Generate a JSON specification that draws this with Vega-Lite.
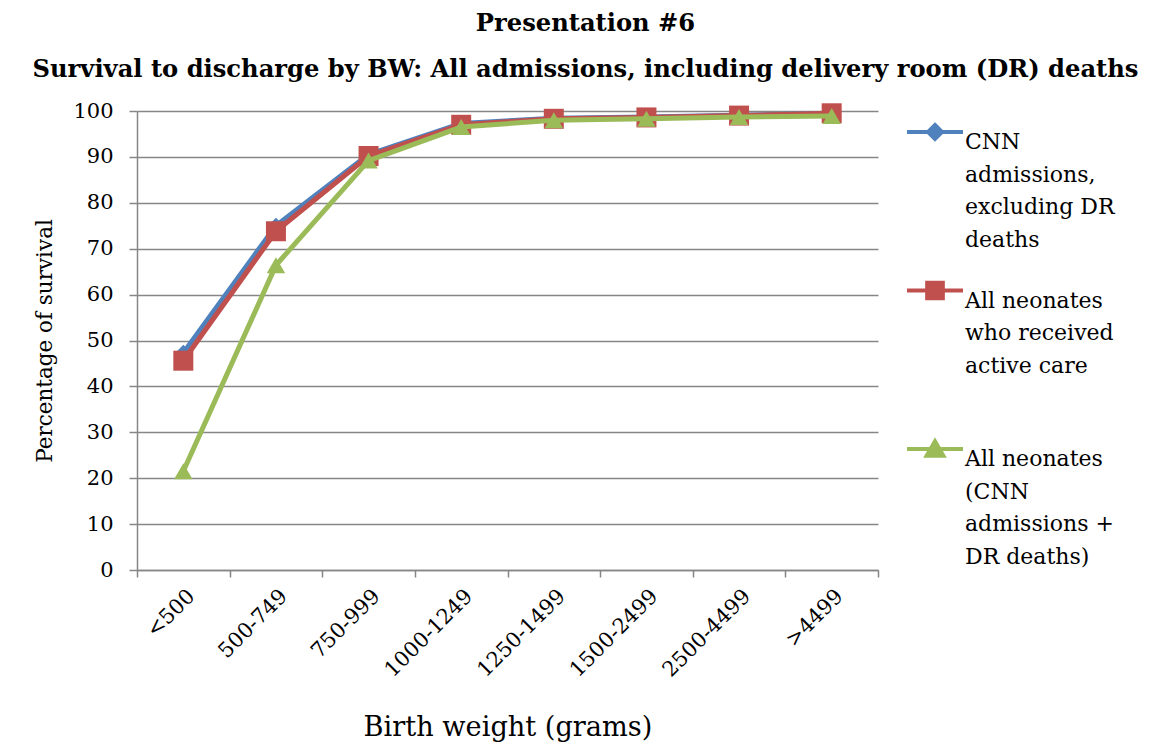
{
  "$schema": "https://vega.github.io/schema/vega-lite/v6.json",
  "width": 741,
  "height": 459,
  "autosize": {"type": "none"},
  "padding": {"left": 137, "top": 111, "right": 274, "bottom": 175},
  "background": "white",
  "title": {
    "text": ["Presentation #6", "Survival to discharge by BW: All admissions, including delivery room (DR) deaths"],
    "font": "DejaVu Serif",
    "fontSize": 24.2,
    "fontWeight": "bold",
    "color": "black",
    "lineHeight": 46,
    "anchor": "middle",
    "frame": "group",
    "dx": 78,
    "offset": 18
  },
  "data": {
    "values": [
      {"bw": "<500", "series": "CNN admissions, excluding DR deaths", "pct": 47.3},
      {"bw": "500-749", "series": "CNN admissions, excluding DR deaths", "pct": 75.0},
      {"bw": "750-999", "series": "CNN admissions, excluding DR deaths", "pct": 90.5},
      {"bw": "1000-1249", "series": "CNN admissions, excluding DR deaths", "pct": 97.3},
      {"bw": "1250-1499", "series": "CNN admissions, excluding DR deaths", "pct": 98.4},
      {"bw": "1500-2499", "series": "CNN admissions, excluding DR deaths", "pct": 98.7},
      {"bw": "2500-4499", "series": "CNN admissions, excluding DR deaths", "pct": 99.1},
      {"bw": ">4499", "series": "CNN admissions, excluding DR deaths", "pct": 99.5},
      {"bw": "<500", "series": "All neonates who received active care", "pct": 45.6},
      {"bw": "500-749", "series": "All neonates who received active care", "pct": 73.8},
      {"bw": "750-999", "series": "All neonates who received active care", "pct": 90.2},
      {"bw": "1000-1249", "series": "All neonates who received active care", "pct": 97.0},
      {"bw": "1250-1499", "series": "All neonates who received active care", "pct": 98.3},
      {"bw": "1500-2499", "series": "All neonates who received active care", "pct": 98.6},
      {"bw": "2500-4499", "series": "All neonates who received active care", "pct": 99.0},
      {"bw": ">4499", "series": "All neonates who received active care", "pct": 99.5},
      {"bw": "<500", "series": "All neonates (CNN admissions + DR deaths)", "pct": 21.5},
      {"bw": "500-749", "series": "All neonates (CNN admissions + DR deaths)", "pct": 66.4},
      {"bw": "750-999", "series": "All neonates (CNN admissions + DR deaths)", "pct": 89.2},
      {"bw": "1000-1249", "series": "All neonates (CNN admissions + DR deaths)", "pct": 96.5},
      {"bw": "1250-1499", "series": "All neonates (CNN admissions + DR deaths)", "pct": 98.0},
      {"bw": "1500-2499", "series": "All neonates (CNN admissions + DR deaths)", "pct": 98.3},
      {"bw": "2500-4499", "series": "All neonates (CNN admissions + DR deaths)", "pct": 98.7},
      {"bw": ">4499", "series": "All neonates (CNN admissions + DR deaths)", "pct": 98.9}
    ]
  },
  "encoding": {
    "x": {
      "field": "bw",
      "type": "ordinal",
      "sort": ["<500", "500-749", "750-999", "1000-1249", "1250-1499", "1500-2499", "2500-4499", ">4499"],
      "bandPosition": 0.5,
      "scale": {"type": "band", "paddingInner": 0, "paddingOuter": 0},
      "axis": {
        "title": "Birth weight (grams)",
        "labelAngle": -45,
        "labelFont": "DejaVu Serif",
        "labelFontSize": 21,
        "labelColor": "black",
        "labelPadding": 8,
        "tickBand": "extent",
        "tickSize": 7,
        "tickColor": "#868686",
        "tickWidth": 1.5,
        "domainColor": "#868686",
        "domainWidth": 1.5,
        "grid": false,
        "titleFont": "DejaVu Serif",
        "titleFontSize": 27.2,
        "titleFontWeight": "normal",
        "titleColor": "black",
        "titlePadding": 34
      }
    },
    "y": {
      "field": "pct",
      "type": "quantitative",
      "scale": {"domain": [0, 100], "nice": false},
      "axis": {
        "title": "Percentage of survival",
        "values": [0, 10, 20, 30, 40, 50, 60, 70, 80, 90, 100],
        "labelFont": "DejaVu Serif",
        "labelFontSize": 21,
        "labelColor": "black",
        "labelPadding": 16,
        "tickSize": 8,
        "tickColor": "#868686",
        "tickWidth": 1.5,
        "domainColor": "#868686",
        "domainWidth": 1.5,
        "grid": true,
        "gridColor": "#868686",
        "gridWidth": 1.5,
        "titleFont": "DejaVu Serif",
        "titleFontSize": 21.5,
        "titleFontWeight": "normal",
        "titleColor": "black",
        "titlePadding": 16
      }
    },
    "color": {
      "field": "series",
      "type": "nominal",
      "scale": {
        "domain": ["CNN admissions, excluding DR deaths", "All neonates who received active care", "All neonates (CNN admissions + DR deaths)"],
        "range": ["#4F81BD", "#C0504D", "#9BBB59"]
      },
      "legend": {
        "orient": "none",
        "legendX": 768,
        "legendY": -9,
        "title": null,
        "direction": "vertical",
        "labelFont": "DejaVu Serif",
        "labelFontSize": 22,
        "labelColor": "black",
        "labelLimit": 300,
        "labelBaseline": "top",
        "labelOffset": 0,
        "rowPadding": 9.5,
        "symbolSize": 3136,
        "symbolStrokeWidth": 4,
        "labelExpr": "datum.label == 'CNN admissions, excluding DR deaths' ? ['CNN', 'admissions,', 'excluding DR', 'deaths'] : datum.label == 'All neonates who received active care' ? ['All neonates', 'who received', 'active care', ' '] : ['All neonates', '(CNN', 'admissions +', 'DR deaths)']",
        "encode": {
          "labels": {"update": {"lineHeight": {"value": 32.5}}},
          "symbols": {
            "update": {
              "shape": {"signal": "datum.value == 'CNN admissions, excluding DR deaths' ? 'M-1,0H1M0,-0.25L0.25,0L0,0.25L-0.25,0Z' : datum.value == 'All neonates who received active care' ? 'M-1,0H1M-0.28,-0.28H0.28V0.28H-0.28Z' : 'M-1,0H1M0,-0.28L0.3,0.24H-0.3Z'"},
              "size": {"value": 3136},
              "fill": {"scale": "color", "field": "value"},
              "stroke": {"scale": "color", "field": "value"},
              "strokeWidth": {"value": 4},
              "opacity": {"value": 1}
            }
          }
        }
      }
    }
  },
  "layer": [
    {
      "transform": [{"filter": "datum.series == 'CNN admissions, excluding DR deaths'"}],
      "layer": [
        {"mark": {"type": "line", "strokeWidth": 5}},
        {"mark": {"type": "point", "filled": true, "opacity": 1, "shape": "diamond", "size": 260}}
      ]
    },
    {
      "transform": [{"filter": "datum.series == 'All neonates who received active care'"}],
      "layer": [
        {"mark": {"type": "line", "strokeWidth": 5}},
        {"mark": {"type": "point", "filled": true, "opacity": 1, "shape": "square", "size": 400}}
      ]
    },
    {
      "transform": [{"filter": "datum.series == 'All neonates (CNN admissions + DR deaths)'"}],
      "layer": [
        {"mark": {"type": "line", "strokeWidth": 5}},
        {"mark": {"type": "point", "filled": true, "opacity": 1, "shape": "triangle-up", "size": 340}}
      ]
    }
  ],
  "config": {
    "view": {"stroke": null}
  }
}
